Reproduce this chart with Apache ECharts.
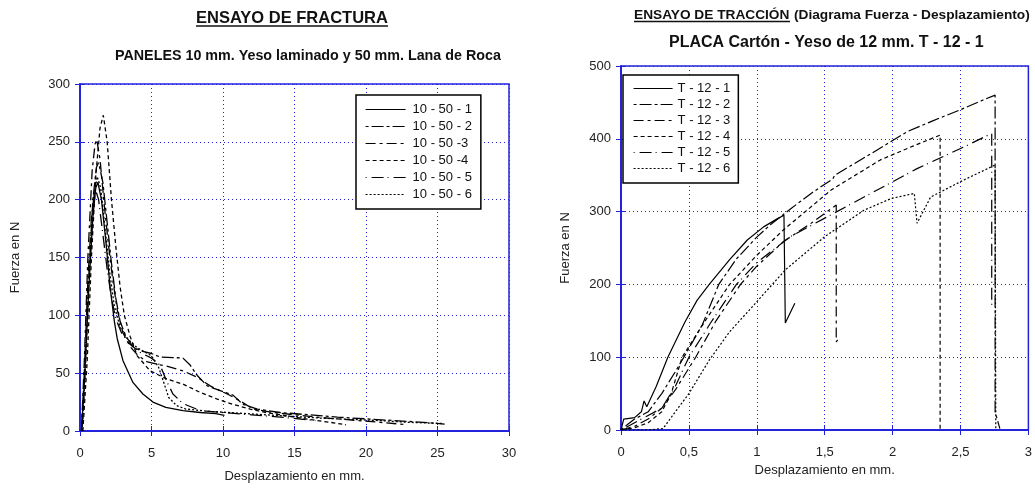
<!DOCTYPE html>
<html>
<head>
<meta charset="utf-8">
<script src="https://cdn.jsdelivr.net/npm/echarts@6/dist/echarts.min.js"></script>
<style>html,body{margin:0;padding:0;background:#fff}#c{width:1035px;height:488px}</style>
</head>
<body>
<div id="c"></div>
<script>
// ---- Left chart: ENSAYO DE FRACTURA ----
const fracNames = ['10 - 50 - 1', '10 - 50 - 2', '10 - 50 -3', '10 - 50 -4', '10 - 50 - 5', '10 - 50 - 6'];
const fracXTicks = [0, 5, 10, 15, 20, 25, 30];
const fracYTicks = [0, 50, 100, 150, 200, 250, 300];
const frac1 = [[0.1,0],[0.3,40],[0.6,120],[0.9,185],[1.1,210],[1.25,215],[1.5,200],[1.8,165],[2.1,125],[2.4,95],[2.6,80],[3.0,61],[3.7,42],[4.4,32],[5.1,25],[6.0,20.5],[7.2,17.7],[8.4,16],[9.5,15],[10.1,13.5]];
const frac2 = [[0.15,0],[0.35,50],[0.6,130],[0.9,200],[1.15,228],[1.3,232],[1.6,215],[1.9,180],[2.2,145],[2.5,115],[2.8,95],[3.2,82],[3.7,73],[4.3,69],[5.0,67],[5.6,64],[6.5,63.5],[7.2,63],[7.7,57],[8.2,48],[8.9,39],[10,34],[10.7,31],[11.4,23],[12.4,19],[14,16],[16,14],[18,12],[20,10.5],[22,9],[24,7.5],[25.5,6]];
const frac3 = [[0.1,0],[0.3,60],[0.55,150],[0.85,225],[1.05,248],[1.17,252],[1.4,235],[1.7,195],[2.0,160],[2.3,130],[2.6,105],[3.0,85],[3.5,73],[4.0,66],[4.66,60],[5.3,58],[6.06,56],[7.2,52],[8.2,46.5],[9.1,39],[10.3,32],[11.2,26],[12.1,19],[13.5,16],[15,14],[17,11.5],[19,9.5],[21,7.5],[22.8,5.5]];
const frac4 = [[0.2,0],[0.5,60],[0.8,150],[1.1,220],[1.4,262],[1.63,273],[1.9,250],[2.2,200],[2.5,160],[2.8,125],[3.1,100],[3.5,82],[4.0,65],[4.9,52],[6.06,45],[7.2,40.5],[8.4,33.4],[9.6,27.6],[10.7,23],[11.9,19],[13,16],[14.5,13],[16,10],[17.5,7.5],[18.6,5.4]];
const frac5 = [[0.1,0],[0.3,50],[0.55,130],[0.8,185],[1.05,210],[1.3,200],[1.6,170],[1.9,140],[2.2,115],[2.5,97],[2.9,85],[3.5,75],[4.2,68],[5.0,63],[5.6,57],[6.06,43],[6.5,32],[7.2,23.7],[8.4,17.7],[10,16],[12,14],[14,12],[16.5,9]];
const frac6 = [[0.15,0],[0.4,60],[0.7,150],[1.0,205],[1.2,220],[1.45,210],[1.75,175],[2.1,135],[2.4,108],[2.8,90],[3.3,80],[4.0,72],[5.0,65],[5.5,55],[5.83,43],[6.2,29],[6.75,22],[7.4,19],[9,17],[11,15.5],[13,14],[15,12.5],[17,11],[19,10],[21,9],[23,7.5],[25.3,6.5]];

// ---- Right chart: ENSAYO DE TRACCIÓN ----
const tracNames = ['T - 12 - 1', 'T - 12 - 2', 'T - 12 - 3', 'T - 12 - 4', 'T - 12 - 5', 'T - 12 - 6'];
const tracXTicks = [0, 0.5, 1, 1.5, 2, 2.5, 3];
const tracYTicks = [0, 100, 200, 300, 400, 500];
const trac1 = [[0,0],[0.02,15],[0.1,17],[0.15,25],[0.17,40],[0.19,32],[0.26,60],[0.345,100],[0.47,148],[0.56,178],[0.65,200],[0.8,234],[0.93,261],[1.05,279],[1.15,290],[1.2,295],[1.21,147],[1.28,174]];
const trac2 = [[0,0],[0.05,8],[0.1,15],[0.2,25],[0.3,50],[0.4,80],[0.5,112],[0.6,145],[0.72,200],[0.85,235],[1.0,265],[1.1,282],[1.25,304],[1.4,325],[1.56,345],[1.574,350],[1.8,375],[2.11,410],[2.3,425],[2.5,440],[2.65,452],[2.755,460],[2.755,25],[2.79,2]];
const trac3 = [[0,0],[0.1,5],[0.2,15],[0.3,30],[0.4,55],[0.55,100],[0.7,150],[0.88,200],[1.0,225],[1.197,259],[1.4,284],[1.585,309],[1.585,121],[1.6,125]];
const trac4 = [[0,0],[0.1,3],[0.2,10],[0.3,25],[0.37,50],[0.45,100],[0.62,150],[0.8,200],[1.0,240],[1.197,275],[1.55,330],[1.91,371],[2.15,390],[2.35,405],[2.35,0]];
const trac5 = [[0,0],[0.1,10],[0.2,20],[0.3,30],[0.36,48],[0.4,60],[0.5,100],[0.67,150],[0.85,200],[1.0,230],[1.246,265.5],[1.54,295],[1.79,320],[2.18,359],[2.55,391],[2.73,407.5],[2.73,172],[2.75,172]];
const trac6 = [[0,0],[0.2,0],[0.31,2],[0.4,25],[0.5,50],[0.65,96],[0.8,135],[0.99,174],[1.21,220],[1.5,265.5],[1.79,302],[1.99,318],[2.16,325],[2.18,284],[2.28,320],[2.52,343],[2.755,364],[2.76,0]];

const fracData = [frac1, frac2, frac3, frac4, frac5, frac6];
const tracData = [trac1, trac2, trac3, trac4, trac5, trac6];
const dashes = ['solid', [3,3,12,3], [10,4,3,4], [4,3], [1,5,12,4], [2,2]];

const FONT = "'Liberation Sans', Arial, sans-serif";
const BLUE = '#2222dd';

function xAx(grid, ticks, pos, fmt, name, nameGap) {
  const main = pos === 'bottom';
  return {
    type: 'value', gridIndex: grid, position: pos,
    min: ticks[0], max: ticks[ticks.length - 1], interval: ticks[1] - ticks[0],
    name: main ? name : '', nameLocation: 'middle', nameGap: nameGap,
    nameTextStyle: { fontFamily: FONT, fontSize: 13, color: '#222' },
    axisLine: { show: true, lineStyle: { color: BLUE, width: 1.5 } },
    axisTick: { show: true, inside: true, length: 5, lineStyle: { color: BLUE } },
    axisLabel: { show: main, margin: 16, fontFamily: FONT, fontSize: 13, color: '#222', formatter: fmt },
    splitLine: { show: main, lineStyle: { color: BLUE, type: [1, 3], width: 1 } }
  };
}
function yAx(grid, ticks, pos, name, nameGap) {
  const main = pos === 'left';
  return {
    type: 'value', gridIndex: grid, position: pos,
    min: ticks[0], max: ticks[ticks.length - 1], interval: ticks[1] - ticks[0],
    name: main ? name : '', nameLocation: 'middle', nameGap: nameGap, nameRotate: 90,
    nameTextStyle: { fontFamily: FONT, fontSize: 13, color: '#222' },
    axisLine: { show: true, lineStyle: { color: BLUE, width: 1.5 } },
    axisTick: { show: true, inside: true, length: 5, lineStyle: { color: BLUE } },
    axisLabel: { show: main, margin: 10, fontFamily: FONT, fontSize: 13, color: '#222' },
    splitLine: { show: main, lineStyle: { color: BLUE, type: [1, 3], width: 1 } }
  };
}

const series = [];
fracData.forEach((d, i) => series.push({
  name: fracNames[i], type: 'line', xAxisIndex: 0, yAxisIndex: 0, data: d,
  symbol: 'none', showSymbol: false, silent: true,
  lineStyle: { color: '#000', width: 1.3, type: dashes[i] }, itemStyle: { color: '#000' }
}));
tracData.forEach((d, i) => series.push({
  name: tracNames[i], type: 'line', xAxisIndex: 2, yAxisIndex: 2, data: d,
  symbol: 'none', showSymbol: false, silent: true,
  lineStyle: { color: '#000', width: 1.2, type: dashes[i] }, itemStyle: { color: '#000' }
}));

const legendItem = { color: 'rgba(0,0,0,0)', borderWidth: 0, opacity: 0 };

const chart = echarts.init(document.getElementById('c'), null, { renderer: 'canvas' });
chart.setOption({
  animation: false,
  backgroundColor: '#fff',
  textStyle: { fontFamily: FONT },
  grid: [
    { left: 80, right: 526, top: 84, bottom: 54, show: true, borderColor: BLUE, borderWidth: 1.5 },
    { left: 621, right: 3, top: 66, bottom: 58, show: true, borderColor: BLUE, borderWidth: 1.5 }
  ],
  xAxis: [
    xAx(0, fracXTicks, 'bottom', v => String(v), 'Desplazamiento en mm.', 39),
    xAx(0, fracXTicks, 'top', v => String(v), '', 0),
    xAx(1, tracXTicks, 'bottom', v => String(v).replace('.', ','), 'Desplazamiento en mm.', 32),
    xAx(1, tracXTicks, 'top', v => String(v), '', 0)
  ],
  yAxis: [
    yAx(0, fracYTicks, 'left', 'Fuerza en N', 58),
    yAx(0, fracYTicks, 'right', '', 0),
    yAx(1, tracYTicks, 'left', 'Fuerza en N', 49),
    yAx(1, tracYTicks, 'right', '', 0)
  ],
  legend: [
    { data: fracNames, orient: 'vertical', left: 356, top: 95, itemWidth: 40, itemHeight: 14, itemGap: 4,
      padding: [8, 9, 8, 9], borderColor: '#000', borderWidth: 1.5, backgroundColor: '#fff',
      itemStyle: legendItem, lineStyle: { width: 1.2 },
      textStyle: { fontFamily: FONT, fontSize: 13, color: '#111', padding: [0, 0, 0, 2] } },
    { data: tracNames, orient: 'vertical', left: 623, top: 75, itemWidth: 39, itemHeight: 13, itemGap: 3,
      padding: [7, 8, 8, 10], borderColor: '#000', borderWidth: 1.5, backgroundColor: '#fff',
      itemStyle: legendItem, lineStyle: { width: 1.2 },
      textStyle: { fontFamily: FONT, fontSize: 13, color: '#111' } }
  ],
  graphic: [
    { type: 'text', left: 196, top: 10, style: { text: 'ENSAYO DE FRACTURA', font: "bold 16.5px 'Liberation Sans', Arial", fill: '#111' } },
    { type: 'line', shape: { x1: 196, y1: 26, x2: 388, y2: 26 }, style: { stroke: '#111', lineWidth: 1.4 } },
    { type: 'text', left: 115, top: 49, style: { text: 'PANELES 10 mm. Yeso laminado y 50 mm. Lana de Roca', font: "bold 14.3px 'Liberation Sans', Arial", fill: '#111' } },
    { type: 'text', left: 634, top: 8, style: { text: 'ENSAYO DE TRACCIÓN', font: "bold 13.7px 'Liberation Sans', Arial", fill: '#111' } },
    { type: 'text', left: 794, top: 8, style: { text: '(Diagrama Fuerza - Desplazamiento)', font: "bold 13.7px 'Liberation Sans', Arial", fill: '#111' } },
    { type: 'line', shape: { x1: 634, y1: 21.5, x2: 790, y2: 21.5 }, style: { stroke: '#111', lineWidth: 1.3 } },
    { type: 'text', left: 669, top: 35, style: { text: 'PLACA Cartón - Yeso de 12 mm. T - 12 - 1', font: "bold 16px 'Liberation Sans', Arial", fill: '#111' } }
  ],
  series: series
});
</script>
</body>
</html>
